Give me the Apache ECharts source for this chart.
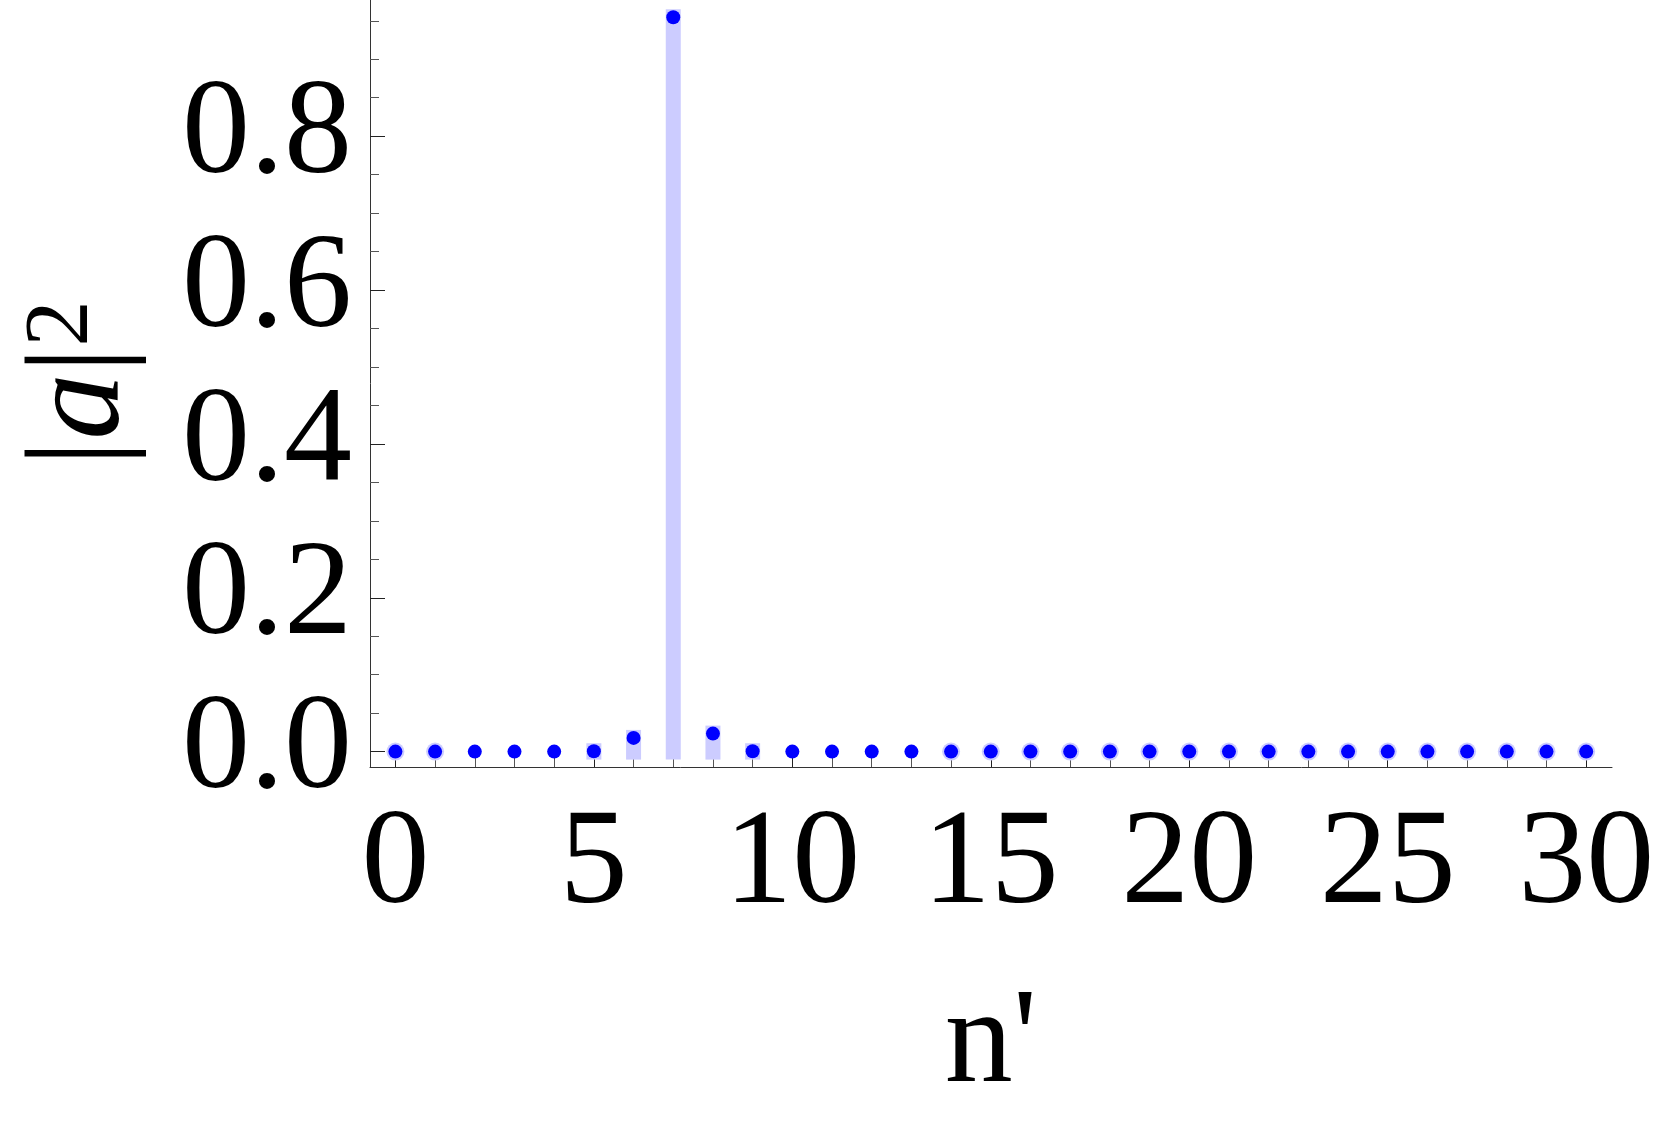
<!DOCTYPE html>
<html>
<head>
<meta charset="utf-8">
<script src="https://cdn.jsdelivr.net/npm/echarts@6/dist/echarts.min.js"></script>
<style>
  html, body { margin: 0; padding: 0; background: #fff; }
  #main { width: 1661px; height: 1125px; }
</style>
</head>
<body>
<div id="main"></div>
<script>
// n' 取值
var nValues = [0, 1, 2, 3, 4, 5, 6, 7, 8, 9, 10, 11, 12, 13, 14, 15,
  16, 17, 18, 19, 20, 21, 22, 23, 24, 25, 26, 27, 28, 29, 30];
// |a|^2
var probValues = [0, 0, 0, 0, 0, 0.0005, 0.0178, 0.9546, 0.0234, 0.0005, 0, 0, 0, 0, 0, 0,
  0, 0, 0, 0, 0, 0, 0, 0, 0, 0, 0, 0, 0, 0, 0];
// 带浅色光圈的点
var haloN = [0, 1, 14, 15, 16, 17, 18, 19, 20, 21, 22, 23, 24, 25, 26, 27, 28, 29, 30];

// 刻度
var xMinorTicks = [0, 1, 2, 3, 4, 5, 6, 7, 8, 9, 10, 11, 12, 13, 14, 15,
  16, 17, 18, 19, 20, 21, 22, 23, 24, 25, 26, 27, 28, 29, 30];
var xMajorTicks = [0, 5, 10, 15, 20, 25, 30];
var yMinorTicks = [0, 0.05, 0.1, 0.15, 0.2, 0.25, 0.3, 0.35, 0.4, 0.45, 0.5,
  0.55, 0.6, 0.65, 0.7, 0.75, 0.8, 0.85, 0.9, 0.95];
var yMajorTicks = [0, 0.2, 0.4, 0.6, 0.8];

var font = '"Liberation Serif", "Times New Roman", Times, serif';
var chart = echarts.init(document.getElementById('main'));

var points = [];
for (var i = 0; i < nValues.length; i++) {
  points.push([nValues[i], probValues[i]]);
}
var halos = [];
for (var j = 0; j < haloN.length; j++) {
  halos.push([haloN[j], 0]);
}

var xRange = { min: -0.64, max: 30.65 };
var yRange = { min: -0.02, max: 0.977 };

var option = {
  backgroundColor: '#fff',
  animation: false,
  grid: { left: 370, right: 49, top: 0, bottom: 358 },
  xAxis: [{
    type: 'value', min: xRange.min, max: xRange.max, position: 'bottom',
    splitLine: { show: false },
    axisLine: { show: true, onZero: false, lineStyle: { color: '#333', width: 1 } },
    axisTick: { show: true, inside: true, length: 9, customValues: xMinorTicks,
      lineStyle: { color: '#555', width: 1 } },
    axisLabel: { show: false },
    name: "n'", nameLocation: 'middle', nameGap: 210,
    nameTextStyle: { fontFamily: font, fontSize: 136, color: '#000' }
  }, {
    type: 'value', min: xRange.min, max: xRange.max, position: 'bottom',
    splitLine: { show: false },
    axisLine: { show: false, onZero: false },
    axisTick: { show: true, inside: true, length: 15, customValues: xMajorTicks,
      lineStyle: { color: '#222', width: 1 } },
    axisLabel: { show: true, customValues: xMajorTicks, margin: 31,
      fontFamily: font, fontSize: 136, color: '#000' }
  }],
  yAxis: [{
    type: 'value', min: yRange.min, max: yRange.max, position: 'left',
    splitLine: { show: false },
    axisLine: { show: true, onZero: false, lineStyle: { color: '#333', width: 1 } },
    axisTick: { show: true, inside: true, length: 9, customValues: yMinorTicks,
      lineStyle: { color: '#555', width: 1 } },
    axisLabel: { show: false },
    name: '{n||}{i|a}{n||}{s|2}', nameLocation: 'middle', nameGap: 220, nameRotate: 90,
    nameTextStyle: {
      color: '#000',
      rich: {
        n: { fontFamily: font, fontSize: 133, color: '#000' },
        i: { fontFamily: font, fontSize: 133, fontStyle: 'italic', color: '#000' },
        s: { fontFamily: font, fontSize: 92, lineHeight: 72, verticalAlign: 'top', color: '#000' }
      }
    }
  }, {
    type: 'value', min: yRange.min, max: yRange.max, position: 'left',
    splitLine: { show: false },
    axisLine: { show: false, onZero: false },
    axisTick: { show: true, inside: true, length: 15, customValues: yMajorTicks,
      lineStyle: { color: '#222', width: 1 } },
    axisLabel: { show: true, customValues: yMajorTicks, margin: 18,
      padding: [12, 0, 0, 0],
      fontFamily: font, fontSize: 136, color: '#000',
      formatter: function (v) { return v.toFixed(1); } }
  }],
  series: [{
    // 填充到轴
    type: 'custom',
    xAxisIndex: 0, yAxisIndex: 0,
    data: points,
    encode: { x: 0, y: 1 },
    renderItem: function (params, api) {
      var v = api.value(1);
      if (v === 0) return;
      var top = api.coord([api.value(0), v]);
      var bot = api.coord([api.value(0), 0]);
      var w = 15;
      return {
        type: 'rect',
        shape: { x: top[0] - w / 2, y: top[1] - 8, width: w, height: bot[1] - top[1] + 16 },
        style: { fill: '#ccccff' }
      };
    },
    z: 2
  }, {
    type: 'scatter',
    xAxisIndex: 0, yAxisIndex: 0,
    data: halos,
    symbolSize: 18,
    itemStyle: { color: '#ccccff', opacity: 1 },
    z: 3
  }, {
    type: 'scatter',
    xAxisIndex: 0, yAxisIndex: 0,
    data: points,
    symbolSize: 14,
    itemStyle: { color: '#0000ff', opacity: 1 },
    z: 4
  }]
};
chart.setOption(option);
</script>
</body>
</html>
